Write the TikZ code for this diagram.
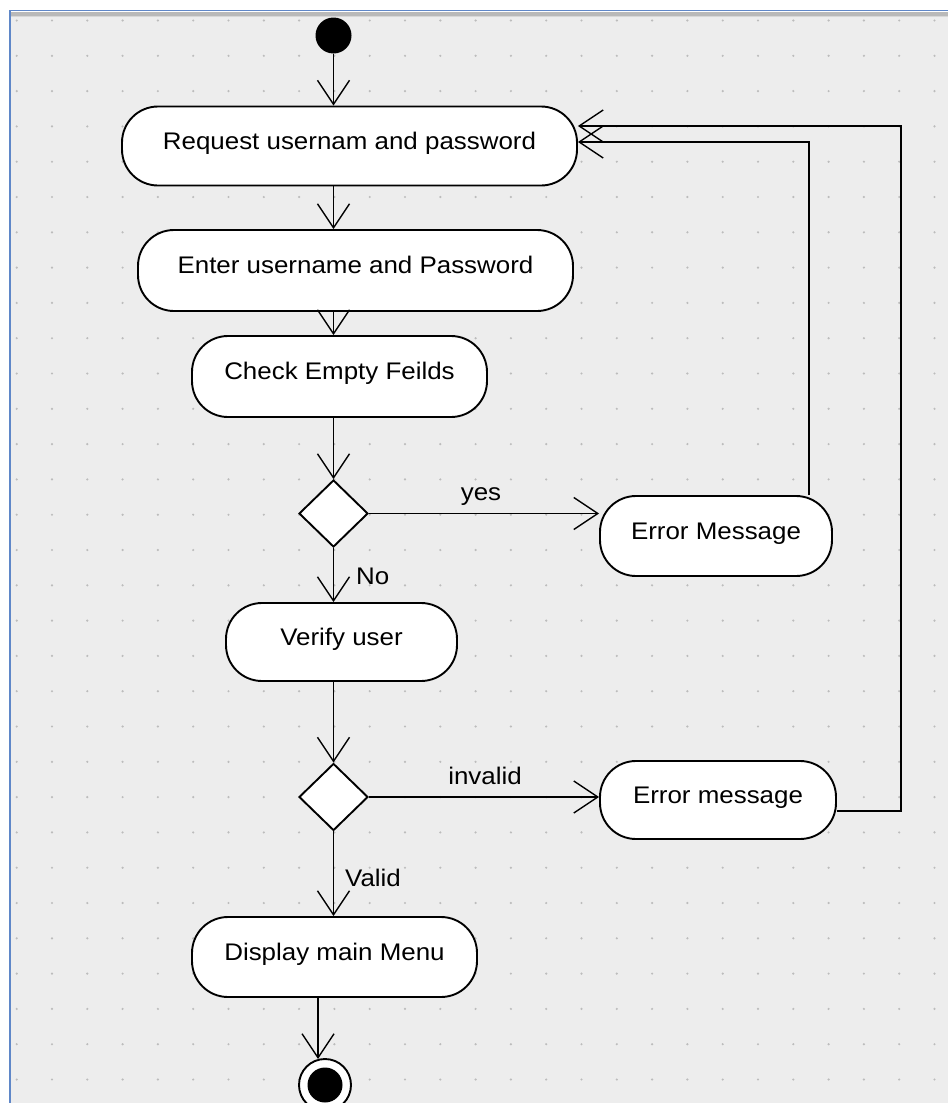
\documentclass[tikz,border=0pt]{standalone}
\usepackage{fontspec}
\setmainfont{Liberation Sans}[FakeStretch=1.08]
\usetikzlibrary{arrows.meta,shapes.geometric,calc}

\definecolor{canvas}{RGB}{237,237,237}
\definecolor{griddot}{RGB}{188,188,188}
\definecolor{frameblue}{RGB}{95,135,200}
\definecolor{framegray}{RGB}{185,185,185}
\definecolor{framelight}{RGB}{215,215,215}

\begin{document}
\begin{tikzpicture}[x=1pt,y=-1pt,
  action/.style={draw=black, line width=1.9pt, fill=white, rounded corners=36pt,
    inner sep=0pt, text height=12pt, text depth=6pt, font=\fontsize{24}{28}\selectfont},
  branch/.style={diamond, draw=black, line width=1.9pt, fill=white, inner sep=0pt,
    minimum width=69pt, minimum height=67pt},
  flow/.style={line width=1.9pt, -{Straight Barb[length=24pt,width=32pt,line width=1.4pt]}},
  guard/.style={font=\fontsize{24}{28}\selectfont, inner sep=0pt, anchor=base},
]
% canvas and window frame
\useasboundingbox (0,0) rectangle (948,1103);
\fill[white] (0,0) rectangle (948,1103);
\fill[canvas] (11,12) rectangle (948,1103);
\fill[framegray] (11,12) rectangle (948,15.5);
\fill[framelight] (11,15.5) rectangle (948,17);
\draw[frameblue, line width=1.8pt] (10,1103) -- (10,10.5) -- (948,10.5);

% dotted grid
\foreach \i in {0,...,26}
  \foreach \j in {0,...,30}
    \fill[griddot] (16.7+35.3*\i, 20.5+35.3*\j) circle (1.2);

% activities
\node[circle, fill=black, minimum size=36pt, inner sep=0pt] (start) at (333.5,35.5) {};
\node[action, minimum width=455pt, minimum height=79pt] (req) at (349.5,146) {Request usernam and password};
\node[action, minimum width=435pt, minimum height=81pt] (enter) at (355.5,270.5) {Enter username and Password};
\node[action, minimum width=295pt, minimum height=81pt] (check) at (339.5,376.5) {Check Empty Feilds};
\node[branch] (d1) at (333.5,513.5) {};
\node[action, minimum width=232pt, minimum height=80pt] (err1) at (716,536) {Error Message};
\node[action, minimum width=231pt, minimum height=78pt] (verify) at (341.5,642) {Verify user};
\node[branch] (d2) at (333.5,797) {};
\node[action, minimum width=236pt, minimum height=78pt] (err2) at (718,800) {Error message};
\node[action, minimum width=285pt, minimum height=80pt] (disp) at (334.5,957) {Display main Menu};
\node[circle, draw=black, line width=1.9pt, fill=white, minimum size=52pt, inner sep=0pt] (fin) at (325,1085) {};
\fill[black] (fin.center) circle (17.5);

% main flow
\draw[flow] (start.south) -- (start.south |- req.north);
\draw[flow] (req.south -| start) -- (enter.north -| start);
\draw[flow] (enter.south -| start) -- (check.north -| start);
\draw[flow] (check.south -| d1) -- (d1.north);
\draw[flow] (d1.east) -- (d1.east -| err1.west);
\node[guard] (lyes) at (481,500) {yes};
\draw[flow] (d1.south) -- (d1.south |- verify.north);
\node[guard, anchor=base west] (lno) at (356,584) {No};
\draw[flow] (verify.south -| d2) -- (d2.north);
\draw[flow] (d2.east) -- (d2.east -| err2.west);
\node[guard] (linv) at (485,784) {invalid};
\draw[flow] (d2.south) -- (d2.south |- disp.north);
\node[guard, anchor=base west] (lval) at (345,886) {Valid};
\draw[flow] (fin.105 |- disp.south) -- (fin.105);

% return paths to the login request
\coordinate (loop1) at (809,142);
\draw[flow] (err1.north -| loop1) -- (loop1) -- (loop1 -| req.east);
\coordinate (loop2) at (901,126);
\draw[flow] ([yshift=-11pt]err2.east) -| (loop2) -- (loop2 -| req.east);
\end{tikzpicture}
\end{document}
